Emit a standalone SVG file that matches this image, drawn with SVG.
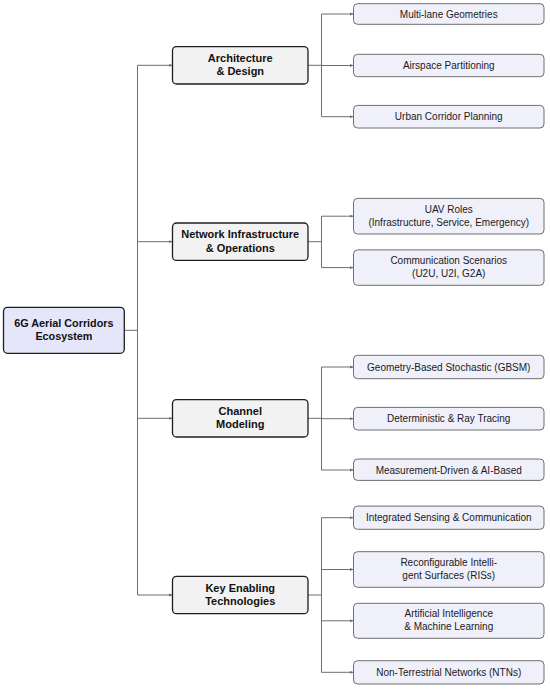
<svg xmlns="http://www.w3.org/2000/svg" width="550" height="689" viewBox="0 0 550 689">
<defs>
<marker id="arr" viewBox="0 0 6 6" refX="6" refY="3" markerWidth="4" markerHeight="4" orient="auto" markerUnits="userSpaceOnUse">
<path d="M0,0.6 L6,3 L0,5.4 Z" fill="#6e6e6e"/>
</marker>
<style>
text{font-family:"Liberation Sans",Arial,sans-serif;text-anchor:middle}
.root rect{fill:#e6e6fa;stroke:#1e1e1e;stroke-width:1.3}
.root text{font-size:10.8px;font-weight:bold;fill:#111}
.mid rect{fill:#f2f2f2;stroke:#1e1e1e;stroke-width:1.3}
.mid text{font-size:11px;font-weight:bold;fill:#111}
.leaf rect{fill:#f0f0fb;stroke:#6e6e6e;stroke-width:1}
.leaf text{font-size:10px;fill:#1a1a1a}
#connectors path{fill:none;stroke:#6e6e6e;stroke-width:1}
#connectors .a{marker-end:url(#arr)}
</style>
</defs>
<rect width="550" height="689" fill="#fff"/>

<g id="connectors">
<path d="M124.3,330.3 H137.5"/>
<path d="M137.5,65.3 V595"/>
<path class="a" d="M137.5,65.3 H172.5"/>
<path class="a" d="M137.5,241.7 H172.5"/>
<path class="a" d="M137.5,418.3 H172.5"/>
<path class="a" d="M137.5,595 H172.5"/>

<path d="M308,65.3 H321.5 M321.5,14 V116.7"/>
<path class="a" d="M321.5,14 H353.5"/>
<path class="a" d="M321.5,65.5 H353.5"/>
<path class="a" d="M321.5,116.7 H353.5"/>

<path d="M308,241.7 H321.5 M321.5,216.2 V267.6"/>
<path class="a" d="M321.5,216.2 H353.5"/>
<path class="a" d="M321.5,267.6 H353.5"/>

<path d="M308,418.3 H321.5 M321.5,367 V470"/>
<path class="a" d="M321.5,367 H353.5"/>
<path class="a" d="M321.5,418.7 H353.5"/>
<path class="a" d="M321.5,470 H353.5"/>

<path d="M308,595 H321.5 M321.5,517.7 V672.3"/>
<path class="a" d="M321.5,517.7 H353.5"/>
<path class="a" d="M321.5,569.5 H353.5"/>
<path class="a" d="M321.5,620.8 H353.5"/>
<path class="a" d="M321.5,672.3 H353.5"/>
</g>

<g id="root" class="root">
<rect x="3.5" y="307.3" width="120.8" height="46" rx="4"/>
<text x="63.9" y="327">6G Aerial Corridors</text>
<text x="63.9" y="340">Ecosystem</text>
</g>

<g id="arch" class="mid">
<rect x="172.5" y="46.6" width="135.5" height="37.4" rx="4"/>
<text x="240.25" y="62">Architecture</text>
<text x="240.25" y="75.3">&amp; Design</text>
</g>
<g id="network" class="mid">
<rect x="172.5" y="223" width="135.5" height="37.4" rx="4"/>
<text x="240.25" y="238.4">Network Infrastructure</text>
<text x="240.25" y="251.7">&amp; Operations</text>
</g>
<g id="channel" class="mid">
<rect x="172.5" y="399.6" width="135.5" height="37.4" rx="4"/>
<text x="240.25" y="415">Channel</text>
<text x="240.25" y="428.3">Modeling</text>
</g>
<g id="key" class="mid">
<rect x="172.5" y="576.3" width="135.5" height="37.4" rx="4"/>
<text x="240.25" y="591.7">Key Enabling</text>
<text x="240.25" y="605">Technologies</text>
</g>

<g id="leaf-multilane" class="leaf">
<rect x="353.5" y="3.7" width="190.5" height="20.6" rx="4"/>
<text x="448.75" y="17.5">Multi-lane Geometries</text>
</g>
<g id="leaf-airspace" class="leaf">
<rect x="353.5" y="54.3" width="190.5" height="22.4" rx="4"/>
<text x="448.75" y="69">Airspace Partitioning</text>
</g>
<g id="leaf-urban" class="leaf">
<rect x="353.5" y="105.4" width="190.5" height="22.6" rx="4"/>
<text x="448.75" y="120.2">Urban Corridor Planning</text>
</g>
<g id="leaf-uav" class="leaf">
<rect x="353.5" y="198.4" width="190.5" height="35.6" rx="4"/>
<text x="448.75" y="212.8">UAV Roles</text>
<text x="448.75" y="225.8">(Infrastructure, Service, Emergency)</text>
</g>
<g id="leaf-comm" class="leaf">
<rect x="353.5" y="249.9" width="190.5" height="35.4" rx="4"/>
<text x="448.75" y="264.2">Communication Scenarios</text>
<text x="448.75" y="277.2">(U2U, U2I, G2A)</text>
</g>
<g id="leaf-gbsm" class="leaf">
<rect x="353.5" y="355.3" width="190.5" height="23.4" rx="4"/>
<text x="448.75" y="370.5">Geometry-Based Stochastic (GBSM)</text>
</g>
<g id="leaf-det" class="leaf">
<rect x="353.5" y="407.4" width="190.5" height="22.6" rx="4"/>
<text x="448.75" y="422.2">Deterministic &amp; Ray Tracing</text>
</g>
<g id="leaf-meas" class="leaf">
<rect x="353.5" y="459" width="190.5" height="21.4" rx="4"/>
<text x="448.75" y="473.5">Measurement-Driven &amp; AI-Based</text>
</g>
<g id="leaf-isac" class="leaf">
<rect x="353.5" y="506.1" width="190.5" height="23.2" rx="4"/>
<text x="448.75" y="521.2">Integrated Sensing &amp; Communication</text>
</g>
<g id="leaf-ris" class="leaf">
<rect x="353.5" y="551.7" width="190.5" height="35.6" rx="4"/>
<text x="448.75" y="566.1">Reconfigurable Intelli-</text>
<text x="448.75" y="579.1">gent Surfaces (RISs)</text>
</g>
<g id="leaf-ai" class="leaf">
<rect x="353.5" y="603.3" width="190.5" height="35" rx="4"/>
<text x="448.75" y="617.4">Artificial Intelligence</text>
<text x="448.75" y="630.4">&amp; Machine Learning</text>
</g>
<g id="leaf-ntn" class="leaf">
<rect x="353.5" y="660.7" width="190.5" height="23.3" rx="4"/>
<text x="448.75" y="675.8">Non-Terrestrial Networks (NTNs)</text>
</g>
</svg>
